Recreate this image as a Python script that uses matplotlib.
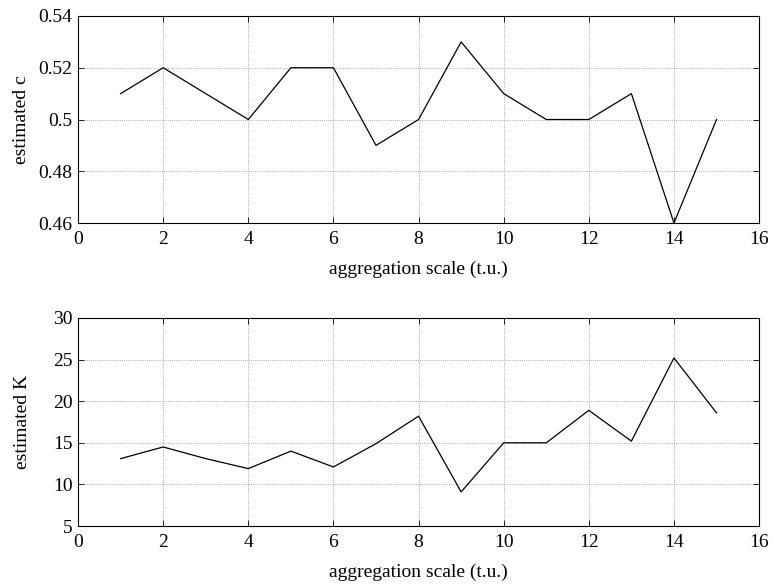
import matplotlib
matplotlib.use("Agg")
import matplotlib.pyplot as plt

scale = [1, 2, 3, 4, 5, 6, 7, 8, 9, 10, 11, 12, 13, 14, 15]
est_c = [0.51, 0.52, 0.51, 0.50, 0.52, 0.52, 0.49, 0.50, 0.53, 0.51, 0.50, 0.50, 0.51, 0.46, 0.50]
est_K = [13.1, 14.5, 13.1, 11.9, 14.0, 12.1, 14.9, 18.2, 9.1, 15.0, 15.0, 18.9, 15.2, 25.2, 18.6]

xticks = [0, 2, 4, 6, 8, 10, 12, 14, 16]
c_ticks = [0.46, 0.48, 0.50, 0.52, 0.54]
c_labels = ["0.46", "0.48", "0.5", "0.52", "0.54"]
K_ticks = [5, 10, 15, 20, 25, 30]

plt.rcParams['font.family'] = ['Liberation Serif', 'DejaVu Serif']
plt.rcParams['font.size'] = 14

fig = plt.figure(figsize=(7.73, 5.88), dpi=100)
ax1 = fig.add_axes([0.101, 0.6207, 0.881, 0.3521])
ax2 = fig.add_axes([0.101, 0.1054, 0.881, 0.3538])

def style(ax):
    ax.grid(True, linestyle=(0, (1, 2)), color='#666666', linewidth=0.5)
    ax.tick_params(direction='in', top=True, right=True, length=4, width=0.6)
    ax.tick_params(axis='x', pad=6)
    ax.tick_params(axis='y', pad=4)
    for s in ax.spines.values():
        s.set_linewidth(0.8)
    ax.set_xlim(0, 16)
    ax.set_xticks(xticks)
    ax.set_xlabel('aggregation scale (t.u.)', labelpad=9)

ax1.plot(scale, est_c, color='black', linewidth=0.9)
style(ax1)
ax1.set_ylim(0.46, 0.54)
ax1.set_yticks(c_ticks)
ax1.set_yticklabels(c_labels)
ax1.set_ylabel('estimated c', labelpad=6)

ax2.plot(scale, est_K, color='black', linewidth=0.9)
style(ax2)
ax2.set_ylim(5, 30)
ax2.set_yticks(K_ticks)
ax2.set_ylabel('estimated K', labelpad=16)

fig.savefig('out.png', dpi=100)
